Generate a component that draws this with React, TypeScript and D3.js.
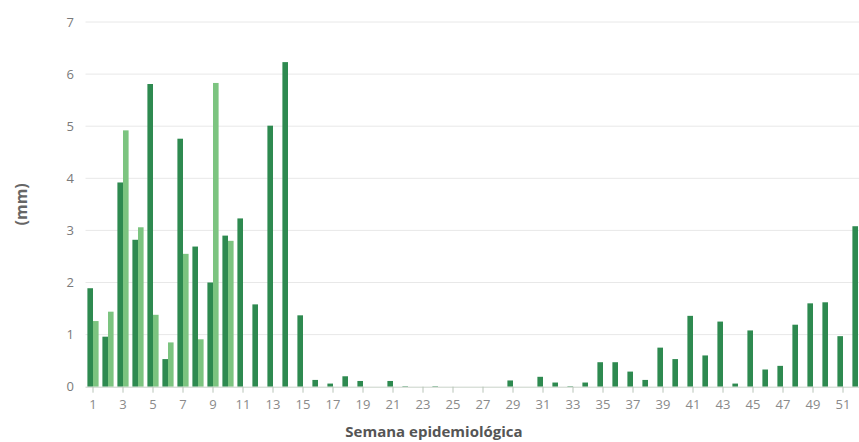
import React from "react";
import * as d3 from "d3";

const weeks: number[] = Array.from({ length: 52 }, (_, i) => i + 1);
const seriesActual: number[] = [
  1.89, 0.96, 3.92, 2.82, 5.81, 0.53, 4.76, 2.69, 2.0, 2.9,
  3.23, 1.58, 5.01, 6.23, 1.37, 0.13, 0.06, 0.2, 0.11, 0.0,
  0.11, 0.01, 0.0, 0.01, 0.0, 0.0, 0.0, 0.0, 0.12, 0.0,
  0.19, 0.08, 0.01, 0.08, 0.47, 0.47, 0.29, 0.13, 0.75, 0.53,
  1.36, 0.6, 1.25, 0.06, 1.08, 0.33, 0.4, 1.19, 1.6, 1.62,
  0.97, 3.08,
];
const seriesLight: number[] = [
  1.26, 1.44, 4.92, 3.06, 1.38, 0.85, 2.55, 0.91, 5.83, 2.8,
  0, 0, 0, 0, 0, 0, 0, 0, 0, 0,
  0, 0, 0, 0, 0, 0, 0, 0, 0, 0,
  0, 0, 0, 0, 0, 0, 0, 0, 0, 0,
  0, 0, 0, 0, 0, 0, 0, 0, 0, 0,
  0, 0,
];
const yTicks: number[] = [0, 1, 2, 3, 4, 5, 6, 7];
const yTitle = "(mm)";
const xTitle = "Semana epidemiológica";

const W = 859;
const H = 442;
const left = 85.5;
const step = 15;
const right = left + step * weeks.length;
const top = 22;
const bottom = 386.7;

const DARK = "#2e8a50";
const LIGHT = "#7cc480";

export default function App() {
  const x = d3
    .scaleBand<number>()
    .domain(weeks)
    .range([left, right])
    .paddingInner(0)
    .paddingOuter(0);
  const y = d3.scaleLinear().domain([0, 7]).range([bottom, top]);
  const barW = 5.6;

  return (
    <svg
      width={W}
      height={H}
      style={{ position: "absolute", left: 0, top: 0, fontFamily: "'Open Sans', sans-serif" }}
    >
      <rect x={0} y={0} width={W} height={H} fill="#fff" />
      {yTicks.map((t) => (
        <g key={t}>
          {t > 0 && (
            <line x1={left} x2={right} y1={y(t)} y2={y(t)} stroke="#e8e8e8" strokeWidth={1} />
          )}
          <text x={74} y={y(t) + 4.5} textAnchor="end" fontSize={13} fill="#7a7a7a">
            {t}
          </text>
        </g>
      ))}
      {weeks.map((w, i) => {
        const cx = (x(w) as number) + x.bandwidth() / 2;
        return (
          <g key={w}>
            {seriesActual[i] > 0 && (
              <rect
                x={cx - barW}
                y={y(seriesActual[i])}
                width={barW}
                height={bottom - y(seriesActual[i])}
                fill={DARK}
              />
            )}
            {seriesLight[i] > 0 && (
              <rect
                x={cx}
                y={y(seriesLight[i])}
                width={barW}
                height={bottom - y(seriesLight[i])}
                fill={LIGHT}
              />
            )}
          </g>
        );
      })}
      <line x1={left} x2={right} y1={bottom + 0.5} y2={bottom + 0.5} stroke="#c8d2c8" strokeWidth={1} />
      {weeks
        .filter((w) => w % 2 === 1)
        .map((w) => {
          const cx = (x(w) as number) + x.bandwidth() / 2;
          return (
            <g key={w}>
              <line x1={cx} x2={cx} y1={bottom} y2={bottom + 6} stroke="#b8c4b8" strokeWidth={1} />
              <text x={cx} y={bottom + 22} textAnchor="middle" fontSize={13} fill="#8a8a8a">
                {w}
              </text>
            </g>
          );
        })}
      <text
        transform={`translate(27,${(top + bottom) / 2}) rotate(-90)`}
        textAnchor="middle"
        fontSize={16}
        fontWeight="bold"
        fill="#666"
      >
        {yTitle}
      </text>
      <text x={434} y={437} textAnchor="middle" fontSize={15} fontWeight="bold" fill="#555">
        {xTitle}
      </text>
    </svg>
  );
}
